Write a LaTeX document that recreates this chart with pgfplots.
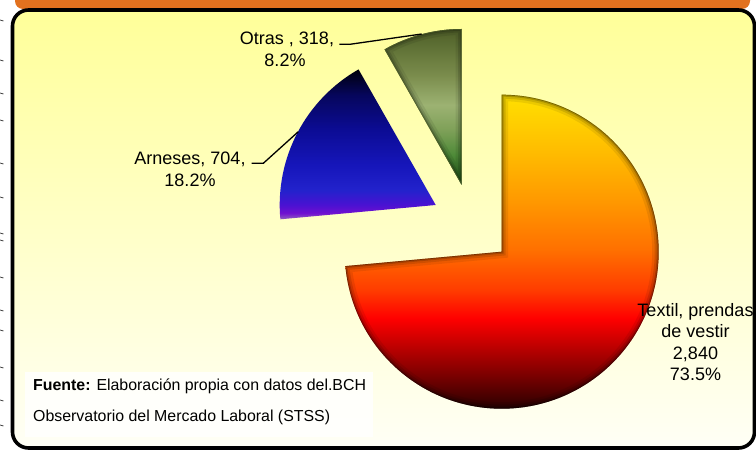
\documentclass[border=0pt]{standalone}
\usepackage{pgfplots}
\pgfplotsset{compat=1.18}
\usepackage{pgfplotstable}
\usepackage{fontspec}
\setmainfont{Liberation Sans}

\definecolor{frameorange}{HTML}{E2711F}
\definecolor{bgtop}{HTML}{FFFF99}
\definecolor{bgmid}{HTML}{FFFFC6}
\definecolor{bgbot}{HTML}{FFFFF6}

\definecolor{ta}{HTML}{2A0000}
\definecolor{tb}{HTML}{7A0000}
\definecolor{tc}{HTML}{C00000}
\definecolor{td}{HTML}{FF0000}
\definecolor{te}{HTML}{FF3C00}
\definecolor{tf}{HTML}{FF7000}
\definecolor{tg}{HTML}{FF9900}
\definecolor{th}{HTML}{FFBB00}
\definecolor{ti}{HTML}{FFE000}
\pgfdeclareverticalshading{textilsh}{100bp}{color(0bp)=(ta); color(25bp)=(ta); color(30.3bp)=(tb); color(35.1bp)=(tc); color(39.4bp)=(td); color(43.9bp)=(te); color(50.3bp)=(tf); color(58.2bp)=(tg); color(65.7bp)=(th); color(75bp)=(ti); color(100bp)=(ti)}

\definecolor{aa}{HTML}{9060C0}
\definecolor{ab}{HTML}{7010D0}
\definecolor{ac}{HTML}{4A12D2}
\definecolor{ad}{HTML}{2222CC}
\definecolor{ae}{HTML}{1616BA}
\definecolor{af}{HTML}{0C0C95}
\definecolor{ag}{HTML}{06065C}
\definecolor{ah}{HTML}{00000A}
\pgfdeclareverticalshading{arnesh}{100bp}{color(0bp)=(aa); color(25bp)=(aa); color(27.1bp)=(ab); color(29.8bp)=(ac); color(34.8bp)=(ad); color(43.1bp)=(ae); color(54.8bp)=(af); color(66.5bp)=(ag); color(75bp)=(ah); color(100bp)=(ah)}

\definecolor{oa}{HTML}{1E4E14}
\definecolor{ob}{HTML}{2C6420}
\definecolor{oc}{HTML}{4E8A38}
\definecolor{od}{HTML}{7EA058}
\definecolor{oe}{HTML}{9CB272}
\definecolor{of}{HTML}{7A8C4C}
\definecolor{og}{HTML}{627438}
\definecolor{oh}{HTML}{4E5E28}
\pgfdeclareverticalshading{otrash}{100bp}{color(0bp)=(oa); color(25bp)=(oa); color(28.2bp)=(ob); color(34.6bp)=(oc); color(42.6bp)=(od); color(50.6bp)=(oe); color(60.3bp)=(of); color(68.3bp)=(og); color(75bp)=(oh); color(100bp)=(oh)}

\pgfplotstableread{
name value
Textil 2840
Arneses 704
Otras 318
}\piedata
\pgfplotstablegetelem{0}{value}\of\piedata \let\vA\pgfplotsretval
\pgfplotstablegetelem{1}{value}\of\piedata \let\vB\pgfplotsretval
\pgfplotstablegetelem{2}{value}\of\piedata \let\vC\pgfplotsretval
\pgfmathsetmacro\tot{(\vA+\vB+\vC)/100}
\pgfmathsetmacro\aA{3.6*(\vA/\tot)}
\pgfmathsetmacro\aB{3.6*(\vB/\tot)}
\pgfmathsetmacro\aC{3.6*(\vC/\tot)}
\pgfmathsetmacro\tEnd{90-\aA}
\pgfmathsetmacro\oEnd{90+\aC}
\pgfmathsetmacro\arEnd{90+\aC+\aB}
\def\textilpath{(axis cs:501.7,198.3) -- ++(90:157pt) arc[start angle=90, end angle=\tEnd, radius=157pt] -- cycle}
\def\arnespath{(axis cs:435.7,245) -- ++(\oEnd:156pt) arc[start angle=\oEnd, end angle=\arEnd, radius=156pt] -- cycle}
\def\otraspath{(axis cs:461.7,265) -- ++(90:156pt) arc[start angle=90, end angle=\oEnd, radius=156pt] -- cycle}

\begin{document}
\begin{tikzpicture}
\begin{axis}[
  width=756pt, height=450pt, scale only axis,
  xmin=0, xmax=756, ymin=0, ymax=450,
  hide axis, clip=true, xtick=\empty, ytick=\empty,
]
\coordinate (bl) at (axis cs:0,0);
\coordinate (tr) at (axis cs:756,450);
% left margin marks
\pgfplotsinvokeforeach{430,390,357,330,287,253,217,210,173,140,120,83,50,25}{
  \draw[black!75, line width=0.8pt] (axis cs:0,#1) -- ++(3.5pt,-1pt);
}
% orange strip
\fill[frameorange, rounded corners=8pt] (axis cs:15,441) rectangle (axis cs:750,470);
% frame
\path[draw=black, line width=3.6pt, rounded corners=16pt, top color=bgtop, middle color=bgmid, bottom color=bgbot] (axis cs:12.5,2) rectangle (axis cs:754.5,440);
% source box
\fill[white, opacity=0.8] (axis cs:25,13) rectangle (axis cs:373,78);
% slices
\shade[shading=textilsh] \textilpath;
\begin{scope}
\clip \textilpath;
\draw[black, opacity=0.08, line width=13pt] \textilpath;
\draw[black, opacity=0.12, line width=8pt] \textilpath;
\draw[black, opacity=0.18, line width=4pt] \textilpath;
\draw[black, opacity=0.3, line width=1.4pt] \textilpath;
\end{scope}
\shade[shading=arnesh] \arnespath;
\shade[shading=otrash] \otraspath;
\begin{scope}
\clip \otraspath;
\draw[black, opacity=0.08, line width=12pt] \otraspath;
\draw[black, opacity=0.12, line width=7pt] \otraspath;
\draw[black, opacity=0.16, line width=3.5pt] \otraspath;
\draw[oh, opacity=0.8, line width=1.5pt] \otraspath;
\end{scope}
% leader lines
\draw[black, line width=1.3pt] (axis cs:339.3,405.7) -- (axis cs:350,405.7) -- (axis cs:421.7,416);
\draw[black, line width=1.3pt] (axis cs:251.7,286.7) -- (axis cs:263.3,286.7) -- (axis cs:298.3,318.3);
% labels
\begin{scope}[every node/.style={font=\fontsize{18}{21.5}\selectfont, inner sep=0pt, anchor=base}]
\node at (axis cs:287,405) {Otras , 318,};
\node at (axis cs:285,383) {8.2\%};
\node at (axis cs:190,285) {Arneses, 704,};
\node at (axis cs:190,263.5) {18.2\%};
\node at (axis cs:695.5,133) {Textil, prendas};
\node at (axis cs:695.5,112) {de vestir};
\node at (axis cs:695.5,90) {2,840};
\node at (axis cs:695.5,69) {73.5\%};
\end{scope}
\begin{scope}[every node/.style={font=\fontsize{15.9}{19}\selectfont, inner sep=0pt, anchor=base west}]
\node at (axis cs:33,59) {\textbf{Fuente:} Elaboración propia con datos del.BCH};
\node at (axis cs:33,28.3) {Observatorio del Mercado Laboral (STSS)};
\end{scope}
\end{axis}
\pgfresetboundingbox
\path[use as bounding box] (bl) rectangle (tr);
\end{tikzpicture}
\end{document}
